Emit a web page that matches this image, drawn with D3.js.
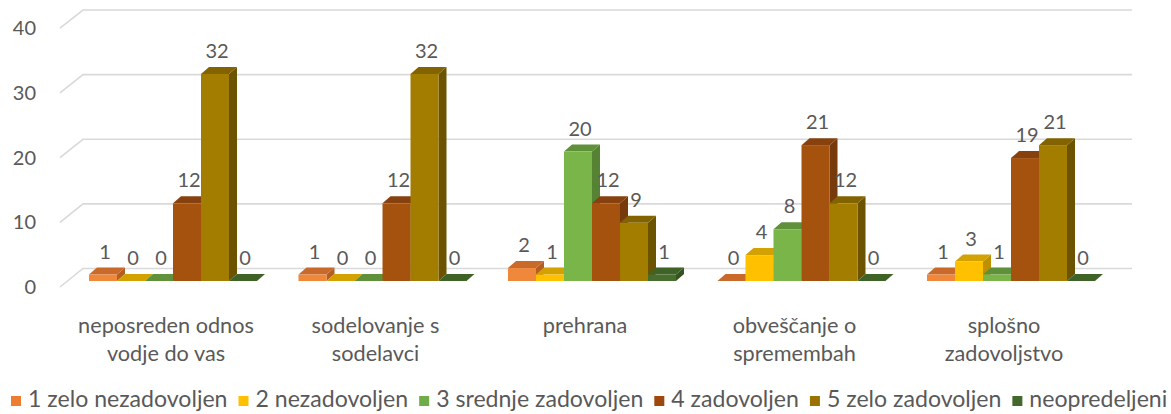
<!DOCTYPE html>
<html>
<head>
<meta charset="utf-8">
<script src="https://cdn.jsdelivr.net/npm/d3@7/dist/d3.min.js"></script>
<style>
  html, body { margin: 0; padding: 0; background: #fff; }
  svg { display: block; }
  text { font-family: Lato, "Open Sans", sans-serif; fill: #595959; }
</style>
</head>
<body>
<svg id="chart" width="1171" height="414"></svg>
<script>
// ---- data ----
const categories = ["neposreden odnos\nvodje do vas", "sodelovanje s\nsodelavci", "prehrana", "obveščanje o\nspremembah", "splošno\nzadovoljstvo"];
const seriesNames = ["1 zelo nezadovoljen", "2 nezadovoljen", "3 srednje zadovoljen", "4 zadovoljen", "5 zelo zadovoljen", "neopredeljeni"];
const s1 = [1, 1, 2, 0, 1];
const s2 = [0, 0, 1, 4, 3];
const s3 = [0, 0, 20, 8, 1];
const s4 = [12, 12, 12, 21, 19];
const s5 = [32, 32, 9, 12, 21];
const s6 = [0, 0, 1, 0, 0];
const yTicks = [0, 10, 20, 30, 40];

const seriesValues = [s1, s2, s3, s4, s5, s6];
const colors = [
  {front: "#F0883C", top: "#C96A2B", side: "#B55E24"},
  {front: "#FFC000", top: "#D4A200", side: "#BF9000"},
  {front: "#7AB54A", top: "#5F903A", side: "#568333"},
  {front: "#A6520F", top: "#86410E", side: "#773A0B"},
  {front: "#A37D00", top: "#836300", side: "#6C5300"},
  {front: "#476E2D", top: "#3F6327", side: "#355320"}
];
const legendColors = ["#ED7D31", "#FFC000", "#70AD47", "#9E480E", "#997300", "#43682B"];

const svg = d3.select("#chart");
const DX = 8, DY = -7;          // bar depth offset

const x0 = d3.scaleBand().domain(categories).range([68.25, 1115.75]).paddingInner(0.198).paddingOuter(0.099);
const x1 = d3.scaleBand().domain(seriesNames).range([0, x0.bandwidth()]);
const y = d3.scaleLinear().domain([0, 40]).range([281, 281 - 258.8]);      // bar plane
const yFront = d3.scaleLinear().domain([0, 40]).range([287, 28.2]);        // front of walls
const yBack = d3.scaleLinear().domain([0, 40]).range([268.5, 10]);         // back wall

// gridlines: side wall + back wall
const grid = svg.append("g").attr("stroke", "#D9D9D9").attr("stroke-width", 1.6).attr("fill", "none");
yTicks.forEach(t => {
  grid.append("path").attr("d", `M60,${yFront(t)} L83,${yBack(t)} L1132,${yBack(t)}`);
});

// y axis labels
const yAxis = d3.axisLeft(yFront).tickValues(yTicks).tickSize(0).tickPadding(0);
const ya = svg.append("g").attr("transform", "translate(36,0)").call(yAxis);
ya.select(".domain").remove();
ya.selectAll("text").style("font-size", "20px").style("fill", "#595959").style("font-family", "Lato, sans-serif");

// bars
const barsG = svg.append("g");
categories.forEach((c, ci) => {
  seriesNames.forEach((s, si) => {
    const v = seriesValues[si][ci];
    const bx = x0(c) + x1(s), w = x1.bandwidth();
    const yt = y(v), yb = y(0);
    const col = colors[si];
    barsG.append("path").attr("fill", col.side)
      .attr("d", `M${bx + w},${yt} L${bx + w + DX},${yt + DY} L${bx + w + DX},${yb + DY} L${bx + w},${yb} Z`);
    barsG.append("path").attr("fill", col.top)
      .attr("d", `M${bx},${yt} L${bx + w},${yt} L${bx + w + DX},${yt + DY} L${bx + DX},${yt + DY} Z`);
    if (v > 0) barsG.append("rect").attr("fill", col.front)
      .attr("x", bx).attr("y", yt).attr("width", w).attr("height", yb - yt);
  });
});

// data labels
const lab = svg.append("g");
categories.forEach((c, ci) => {
  seriesNames.forEach((s, si) => {
    const v = seriesValues[si][ci];
    const bx = x0(c) + x1(s), w = x1.bandwidth();
    lab.append("text").attr("x", bx + w / 2 + 2).attr("y", y(v) + DY - 9)
      .attr("text-anchor", "middle").style("font-size", "20px").text(v);
  });
});

// category axis
const xAxis = d3.axisBottom(x0).tickSize(0).tickPadding(0);
const xa = svg.append("g").attr("transform", "translate(-7,0)").call(xAxis);
xa.select(".domain").remove();
xa.selectAll(".tick text").each(function(d) {
  const t = d3.select(this);
  t.text(null).attr("y", 0).attr("dy", null)
    .style("font-size", "21.7px").style("fill", "#595959").style("font-family", "Lato, sans-serif");
  d.split("\n").forEach((line, i) => {
    t.append("tspan").attr("x", 0).attr("y", 333 + i * 28).text(line);
  });
});

// legend
const leg = svg.append("g");
const items = seriesNames.map((n, i) => {
  const g = leg.append("g");
  g.append("rect").attr("width", 10).attr("height", 10).attr("y", 396).attr("fill", legendColors[i]);
  const t = g.append("text").attr("x", 17).attr("y", 407).style("font-size", "18px").text(n);
  return {g, t};
});
const sum18 = d3.sum(items, it => it.t.node().getComputedTextLength());
const fs = 18 * 1000 / sum18;
items.forEach(it => it.t.style("font-size", fs + "px"));
let lx = 11;
items.forEach(it => {
  it.g.attr("transform", `translate(${lx},0)`);
  lx += 17 + it.t.node().getComputedTextLength() + 11;
});
</script>
</body>
</html>
